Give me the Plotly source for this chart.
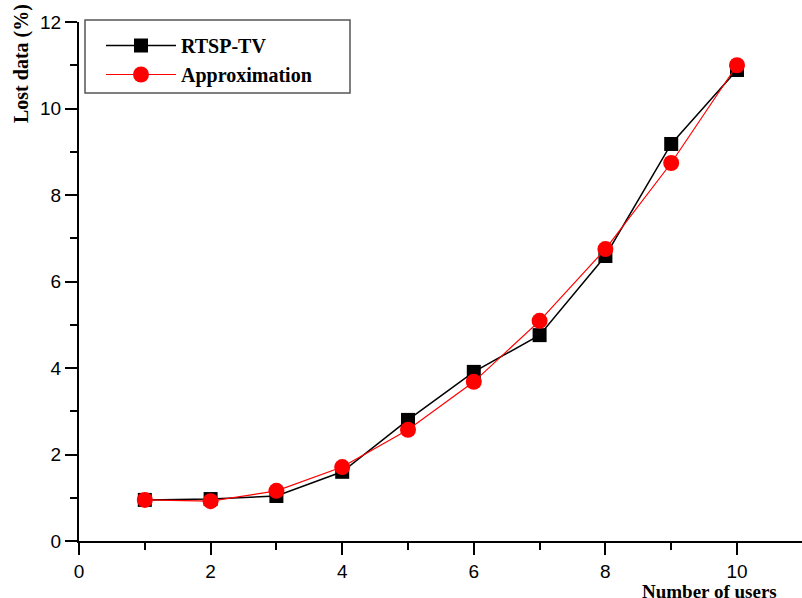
import plotly.graph_objects as go

users = [1, 2, 3, 4, 5, 6, 7, 8, 9, 10]
rtsp_tv = [0.95, 0.97, 1.04, 1.60, 2.80, 3.91, 4.76, 6.59, 9.18, 10.89]
approximation = [0.95, 0.92, 1.16, 1.71, 2.57, 3.68, 5.09, 6.75, 8.74, 11.0]

W, H = 802, 598
L, R, T, B = 79, 0, 22, 57
PW, PH = W - L - R, H - T - B


def px(x):
    return (x - L) / PW


def py(y):
    return (H - B - y) / PH


fig = go.Figure()
fig.add_trace(go.Scatter(
    x=users, y=rtsp_tv, name="RTSP-TV", mode="lines+markers",
    line=dict(color="black", width=1.5),
    marker=dict(symbol="square", size=14, color="black"),
))
fig.add_trace(go.Scatter(
    x=users, y=approximation, name="Approximation", mode="lines+markers",
    line=dict(color="red", width=1.2),
    marker=dict(symbol="circle", size=16, color="red"),
))

serif = "Liberation Serif, Times New Roman"
tickfont = dict(family="Liberation Sans, Arial", size=19, color="black")
fig.update_layout(
    width=W, height=H,
    margin=dict(l=L, r=R, t=T, b=B),
    plot_bgcolor="white", paper_bgcolor="white",
    showlegend=True,
    legend=dict(
        x=px(101), y=py(26), xanchor="left", yanchor="top",
        borderwidth=0, bgcolor="rgba(0,0,0,0)",
        font=dict(family=serif, size=20, color="black", weight="bold"),
        itemwidth=70, tracegroupgap=0,
    ),
    xaxis=dict(
        range=[0, PW / 65.8], dtick=2, tick0=0,
        showline=True, linecolor="black", linewidth=2,
        ticks="outside", ticklen=12, tickwidth=2, tickcolor="black",
        minor=dict(dtick=1, tick0=0, ticks="outside", ticklen=7, tickwidth=2, tickcolor="black"),
        showgrid=False, zeroline=False, tickfont=tickfont,
    ),
    yaxis=dict(
        range=[0, 12], dtick=2, tick0=0,
        showline=True, linecolor="black", linewidth=2,
        ticks="outside", ticklen=12, tickwidth=2, tickcolor="black",
        minor=dict(dtick=1, tick0=0, ticks="outside", ticklen=7, tickwidth=2, tickcolor="black"),
        showgrid=False, zeroline=False, tickfont=tickfont,
    ),
    shapes=[dict(
        type="rect", xref="paper", yref="paper",
        x0=px(85), x1=px(350), y0=py(93), y1=py(20),
        line=dict(color="#555555", width=1.5), fillcolor="rgba(0,0,0,0)", layer="below",
    )],
)
fig.add_annotation(
    text="Lost data (%)", xref="paper", yref="paper",
    x=px(22), y=py(64), xanchor="center", yanchor="middle", textangle=-90,
    showarrow=False,
    font=dict(family=serif, size=20, color="black", weight="bold"),
)
fig.add_annotation(
    text="Number of users", xref="paper", yref="paper",
    x=px(640), y=py(591), xanchor="left", yanchor="middle",
    showarrow=False,
    font=dict(family=serif, size=19, color="black", weight="bold"),
)
fig.write_html("out.html")
